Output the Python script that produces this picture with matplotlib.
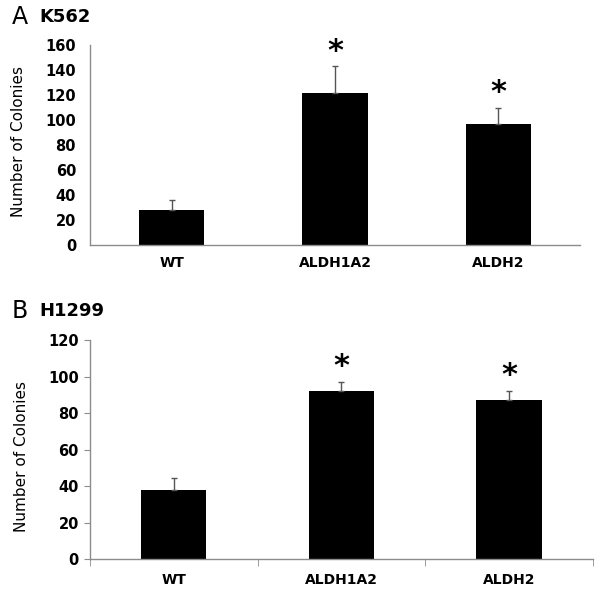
import matplotlib.pyplot as plt
import numpy as np

groups = ['WT', 'ALDH1A2', 'ALDH2']

k562_mean = [28, 122, 97]
k562_err = [8, 21, 13]
k562_sig = [False, True, True]

h1299_mean = [38, 92, 87]
h1299_err = [6.5, 5, 5]
h1299_sig = [False, True, True]

axis_grey = '#8c8c8c'


def draw_panel(ax, means, errs, sig, ymax, ystep, bar_width, with_ticks):
    x = np.arange(len(groups))
    lower = np.zeros(len(errs))
    ax.bar(x, means, width=bar_width, color='black', zorder=2)
    ax.errorbar(x, means, yerr=[lower, errs], fmt='none', ecolor='#555555',
                elinewidth=1, capsize=2.5, capthick=1, zorder=3)
    for xi, m, e, s in zip(x, means, errs, sig):
        if s:
            ax.annotate('*', (xi, m + e), xytext=(0, 11), textcoords='offset points',
                        ha='center', va='center', fontsize=22, fontweight='bold')

    ax.set_xlim(-0.5, len(groups) - 0.5)
    ax.set_ylim(0, ymax)
    ax.set_yticks(np.arange(0, ymax + 1, ystep))
    ax.set_xticks(x)
    ax.set_xticklabels(groups, fontsize=10, fontweight='bold')
    for lbl in ax.get_yticklabels():
        lbl.set_fontsize(10.5)
        lbl.set_fontweight('bold')

    for side in ['top', 'right']:
        ax.spines[side].set_visible(False)
    for side in ['left', 'bottom']:
        ax.spines[side].set_color(axis_grey)
        ax.spines[side].set_linewidth(1)

    if with_ticks:
        ax.set_xticks(np.arange(-0.5, len(groups), 1.0), minor=True)
        ax.tick_params(axis='x', which='major', length=0, pad=10)
        ax.tick_params(axis='x', which='minor', length=5, color=axis_grey, direction='out')
        ax.tick_params(axis='y', length=4, color=axis_grey, pad=4)
    else:
        ax.tick_params(axis='x', length=0, pad=8)
        ax.tick_params(axis='y', length=0, pad=10)

    ax.set_ylabel('Number of Colonies', fontsize=11)


fig = plt.figure(figsize=(6, 5.95), dpi=100)

ax1 = fig.add_axes([0.15, 0.588, 0.817, 0.336])
draw_panel(ax1, k562_mean, k562_err, k562_sig, 160, 20, 0.4, False)
ax1.yaxis.set_label_coords(-0.13, 0.52)

ax2 = fig.add_axes([0.15, 0.0605, 0.838, 0.368])
draw_panel(ax2, h1299_mean, h1299_err, h1299_sig, 120, 20, 0.39, True)
ax2.yaxis.set_label_coords(-0.122, 0.47)

fig.text(0.02, 0.971, 'A', fontsize=17, va='center', ha='left')
fig.text(0.065, 0.972, 'K562', fontsize=13, fontweight='bold', va='center', ha='left')
fig.text(0.02, 0.477, 'B', fontsize=17, va='center', ha='left')
fig.text(0.065, 0.478, 'H1299', fontsize=13, fontweight='bold', va='center', ha='left')

fig.savefig('out.png', dpi=100)
